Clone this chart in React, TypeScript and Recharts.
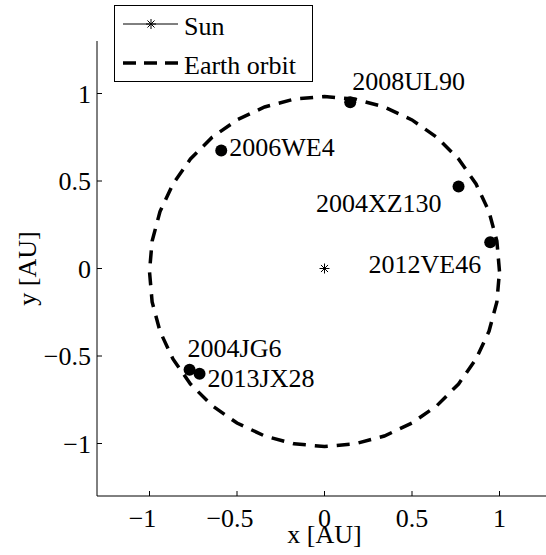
import React from "react";
import {
  Legend,
  Scatter,
  ScatterChart,
  XAxis,
  YAxis,
} from "recharts";

// Values (AU)
const asteroidNames = ["2008UL90", "2006WE4", "2004XZ130", "2012VE46", "2004JG6", "2013JX28"];
const asteroidX = [0.147, -0.59, 0.766, 0.947, -0.771, -0.714];
const asteroidY = [0.95, 0.674, 0.469, 0.15, -0.579, -0.602];

const sunX = [0];
const sunY = [0];

// Earth orbit, traced every ~10 degrees from the picture
const orbitX = [
  1.0, 0.985, 0.94, 0.866, 0.766, 0.643, 0.5, 0.342, 0.174, 0.0, -0.174, -0.342, -0.5,
  -0.643, -0.766, -0.866, -0.94, -0.985, -1.0, -0.985, -0.94, -0.866, -0.766, -0.643,
  -0.5, -0.342, -0.174, 0.0, 0.174, 0.342, 0.5, 0.643, 0.766, 0.866, 0.94, 0.985, 1.0,
];
const orbitY = [
  -0.017, 0.157, 0.325, 0.483, 0.626, 0.749, 0.849, 0.923, 0.968, 0.983, 0.968, 0.923,
  0.849, 0.749, 0.626, 0.483, 0.325, 0.157, -0.017, -0.191, -0.359, -0.517, -0.66,
  -0.783, -0.883, -0.957, -1.002, -1.017, -1.002, -0.957, -0.883, -0.783, -0.66, -0.517,
  -0.359, -0.191, -0.017,
];

const ticks = [-1, -0.5, 0, 0.5, 1];

const asteroids = asteroidNames.map((name, i) => ({ name, x: asteroidX[i], y: asteroidY[i] }));
const sun = sunX.map((x, i) => ({ x, y: sunY[i] }));
const orbit = orbitX.map((x, i) => ({ x, y: orbitY[i] }));

// label placement relative to the dot, in px
const labelPos: Record<string, { dx: number; dy: number; anchor: "start" | "end" }> = {
  "2008UL90": { dx: 2, dy: -12, anchor: "start" },
  "2006WE4": { dx: 8, dy: 5, anchor: "start" },
  "2004XZ130": { dx: -17, dy: 26, anchor: "end" },
  "2012VE46": { dx: -9, dy: 31, anchor: "end" },
  "2004JG6": { dx: -2, dy: -13, anchor: "start" },
  "2013JX28": { dx: 8, dy: 13, anchor: "start" },
};

const txt: React.CSSProperties = {
  fontFamily: "Liberation Serif, Times New Roman, serif",
  fontSize: 26,
  fill: "#000",
};

const fmt = (v: number) => (v < 0 ? "\u2212" + Math.abs(v) : String(v));

function Star({ cx, cy, s = 5 }: { cx: number; cy: number; s?: number }) {
  const d = s * 0.707;
  return (
    <g stroke="#000" strokeWidth={1}>
      <line x1={cx - s} x2={cx + s} y1={cy} y2={cy} />
      <line x1={cx} x2={cx} y1={cy - s} y2={cy + s} />
      <line x1={cx - d} x2={cx + d} y1={cy - d} y2={cy + d} />
      <line x1={cx - d} x2={cx + d} y1={cy + d} y2={cy - d} />
    </g>
  );
}

function XTick(props: any) {
  const { x, y, payload } = props;
  const v = payload.value as number;
  return (
    <g>
      <line x1={x} x2={x} y1={y} y2={y - 5} stroke="#000" />
      <text x={x + (v < 0 ? -7 : 0)} y={y + 31} textAnchor="middle" style={txt}>
        {fmt(v)}
      </text>
    </g>
  );
}

function YTick(props: any) {
  const { x, y, payload } = props;
  const v = payload.value as number;
  return (
    <g>
      <line x1={x} x2={x + 5} y1={y} y2={y} stroke="#000" />
      <text x={x - 6} y={y + 9} textAnchor="end" style={txt}>
        {fmt(v)}
      </text>
    </g>
  );
}

function AsteroidDot(props: any) {
  const { cx, cy, payload } = props;
  const p = labelPos[payload.name];
  return (
    <g>
      <circle cx={cx} cy={cy} r={6} fill="#000" />
      <text x={cx + p.dx} y={cy + p.dy} textAnchor={p.anchor} style={txt}>
        {payload.name}
      </text>
    </g>
  );
}

function LegendBox() {
  return (
    <svg width={199} height={77} style={{ display: "block" }}>
      <rect x={0.5} y={0.5} width={198} height={76} fill="#fff" stroke="#000" />
      <line x1={9} x2={64} y1={19} y2={19} stroke="#000" />
      <Star cx={37} cy={19} />
      <text x={70} y={30} style={txt}>
        Sun
      </text>
      <line x1={9} x2={64} y1={58} y2={58} stroke="#000" strokeWidth={3.5} strokeDasharray="13 8" />
      <text x={70} y={69} style={txt}>
        Earth orbit
      </text>
    </svg>
  );
}

export default function App() {
  return (
    <div style={{ position: "absolute", left: 0, top: 0, width: 546, height: 555, overflow: "hidden", background: "#fff" }}>
      <ScatterChart width={553} height={555} margin={{ top: 41, right: 1, bottom: 0, left: 0 }}>
        <XAxis
          type="number"
          dataKey="x"
          domain={[-1.3, 1.3]}
          ticks={ticks}
          allowDataOverflow
          height={59}
          tickSize={0}
          tickMargin={0}
          tickLine={false}
          axisLine={{ stroke: "#000" }}
          tick={XTick}
          label={{
            content: (p: any) => {
              const vb = p.viewBox;
              return (
                <text x={vb.x + vb.width / 2} y={vb.y + 47} textAnchor="middle" style={txt}>
                  x [AU]
                </text>
              );
            },
          }}
        />
        <YAxis
          type="number"
          dataKey="y"
          domain={[-1.3, 1.3]}
          ticks={ticks}
          allowDataOverflow
          width={97}
          tickSize={0}
          tickMargin={0}
          tickLine={false}
          axisLine={{ stroke: "#000" }}
          tick={YTick}
          label={{
            content: (p: any) => {
              const vb = p.viewBox;
              const cy = vb.y + vb.height / 2;
              return (
                <text x={36} y={cy} transform={`rotate(-90 36 ${cy})`} textAnchor="middle" style={txt}>
                  y [AU]
                </text>
              );
            },
          }}
        />
        <Legend
          layout="vertical"
          align="center"
          verticalAlign="middle"
          wrapperStyle={{ left: 114, top: 5, width: 199, height: 77 }}
          content={() => <LegendBox />}
        />
        <Scatter
          name="Earth orbit"
          data={orbit}
          line={{ stroke: "#000", strokeWidth: 3.5, strokeDasharray: "13 9" }}
          lineType="joint"
          shape={() => <g />}
          isAnimationActive={false}
        />
        <Scatter
          name="Sun"
          data={sun}
          shape={(p: any) => <Star cx={p.cx} cy={p.cy} />}
          isAnimationActive={false}
        />
        <Scatter data={asteroids} shape={AsteroidDot} isAnimationActive={false} />
      </ScatterChart>
    </div>
  );
}
